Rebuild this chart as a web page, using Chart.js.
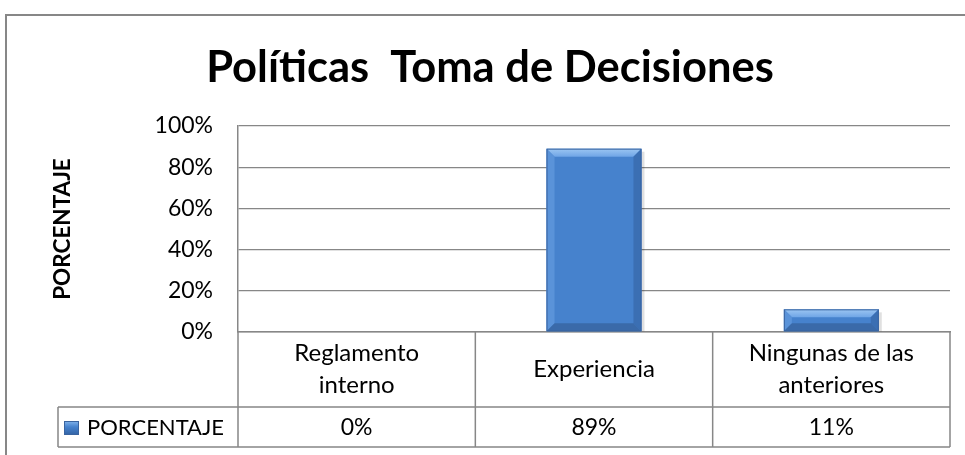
<!DOCTYPE html>
<html>
<head>
<meta charset="utf-8">
<script src="https://cdn.jsdelivr.net/npm/chart.js@4"></script>
<style>
  body { margin: 0; background: #fff; }
  #wrap { position: relative; width: 965px; height: 455px; overflow: hidden; }
  #marco { position: absolute; left: 5px; top: 14px; width: 1000px; height: 1000px; border: 2px solid #878787; }
  canvas { position: absolute; left: 0; top: 0; }
</style>
</head>
<body>
<div id="wrap">
  <div id="marco"></div>
  <canvas id="grafico" width="965" height="455"></canvas>
</div>
<script>
const categorias = [["Reglamento", "interno"], ["Experiencia"], ["Ningunas de las", "anteriores"]];
const porcentaje = [0, 89, 11];
const etiquetasValor = ["0%", "89%", "11%"];
const nombreSerie = "PORCENTAJE";

const fuente = "Lato, 'Liberation Sans', sans-serif";
const gris = "#878787";
const azul = "#4682cd";

// relieve tipo "bisel" de Excel sobre cada barra
const biselBarras = {
  id: "biselBarras",
  afterDatasetsDraw(chart) {
    const ctx = chart.ctx;
    chart.getDatasetMeta(0).data.forEach((bar) => {
      const { x, y, base, width } = bar.getProps(["x", "y", "base", "width"], true);
      const h = base - y;
      if (h < 1) return;
      const l = x - width / 2, r = x + width / 2;
      const b = Math.min(8, h / 2);
      const poly = (pts, color) => {
        ctx.beginPath();
        ctx.moveTo(pts[0][0], pts[0][1]);
        pts.slice(1).forEach((p) => ctx.lineTo(p[0], p[1]));
        ctx.closePath();
        ctx.fillStyle = color;
        ctx.fill();
      };
      ctx.save();
      // sombra suave
      ctx.fillStyle = "rgba(0,0,0,0.12)";
      ctx.fillRect(r, y + 3, 3, h - 3);
      const g = ctx.createLinearGradient(0, y, 0, y + b);
      g.addColorStop(0, "#9cc6f2");
      g.addColorStop(1, "#6fa5e6");
      poly([[l, y], [r, y], [r - b, y + b], [l + b, y + b]], g);
      poly([[l, y], [l + b, y + b], [l + b, base - b], [l, base]], "#5a93d9");
      poly([[r, y], [r, base], [r - b, base - b], [r - b, y + b]], "#3b6fb3");
      poly([[l, base], [l + b, base - b], [r - b, base - b], [r, base]], "#3a6aa9");
      ctx.strokeStyle = "#3a64a0";
      ctx.lineWidth = 1;
      ctx.strokeRect(l + 0.5, y + 0.5, width - 1, h - 1);
      ctx.restore();
    });
  }
};

// tabla de datos debajo del eje x
const tablaDatos = {
  id: "tablaDatos",
  afterDraw(chart) {
    const ctx = chart.ctx;
    const area = chart.chartArea;
    const x = chart.scales.x;
    const paso = x.getPixelForValue(1) - x.getPixelForValue(0);
    const filaTop = x.bottom;
    const filaBottom = filaTop + 40;
    const leyendaIzq = 58;

    ctx.save();
    ctx.strokeStyle = gris;
    ctx.lineWidth = 1.5;
    ctx.beginPath();
    ctx.moveTo(leyendaIzq, filaTop);
    ctx.lineTo(area.right, filaTop);
    ctx.moveTo(leyendaIzq, filaBottom);
    ctx.lineTo(area.right, filaBottom);
    for (let i = 0; i <= porcentaje.length; i++) {
      const px = x.getPixelForValue(0) - paso / 2 + i * paso;
      ctx.moveTo(px, area.bottom);
      ctx.lineTo(px, filaBottom);
    }
    ctx.moveTo(leyendaIzq, filaTop);
    ctx.lineTo(leyendaIzq, filaBottom);
    ctx.stroke();

    // etiquetas de categoría, centradas en la fila
    ctx.fillStyle = "#000";
    ctx.textBaseline = "middle";
    ctx.textAlign = "center";
    ctx.font = "24px " + fuente;
    const cyCat = (area.bottom + filaTop) / 2;
    categorias.forEach((lineas, i) => {
      const cx = x.getPixelForValue(i);
      const y0 = cyCat - ((lineas.length - 1) * 32) / 2;
      lineas.forEach((t, k) => ctx.fillText(t, cx, y0 + k * 32));
    });

    // fila de valores y clave de leyenda
    const cy = (filaTop + filaBottom) / 2;
    const g = ctx.createLinearGradient(0, cy - 7, 0, cy + 7);
    g.addColorStop(0, "#8dbcf0");
    g.addColorStop(0.5, "#4682cd");
    g.addColorStop(1, "#3566a8");
    ctx.fillStyle = g;
    ctx.fillRect(leyendaIzq + 6, cy - 6, 15, 14);
    ctx.strokeStyle = "#3a64a0";
    ctx.lineWidth = 1;
    ctx.strokeRect(leyendaIzq + 6.5, cy - 5.5, 14, 13);

    ctx.fillStyle = "#000";
    ctx.font = "22px " + fuente;
    ctx.textAlign = "left";
    ctx.fillText(nombreSerie, leyendaIzq + 29, cy + 1);

    ctx.textAlign = "center";
    ctx.font = "23px " + fuente;
    etiquetasValor.forEach((t, i) => {
      ctx.fillText(t, x.getPixelForValue(i), cy + 1);
    });
    ctx.restore();
  }
};

new Chart(document.getElementById("grafico"), {
  type: "bar",
  data: {
    labels: categorias,
    datasets: [
      {
        label: nombreSerie,
        data: porcentaje,
        backgroundColor: azul,
        borderWidth: 0,
        barPercentage: 0.4,
        categoryPercentage: 1,
      },
    ],
  },
  options: {
    responsive: false,
    animation: false,
    layout: {
      padding: { top: 30, left: 30, right: 15, bottom: 48 },
    },
    plugins: {
      legend: { display: false },
      tooltip: { enabled: false },
      title: {
        display: true,
        text: "Políticas  Toma de Decisiones",
        color: "#000",
        font: { family: fuente, size: 43.5, weight: "bold", lineHeight: 1.15 },
        padding: { top: 13, bottom: 33 },
      },
    },
    scales: {
      x: {
        grid: { display: false },
        border: { display: true, color: gris, width: 1.5 },
        ticks: { display: false },
        afterFit: (s) => {
          s.height = 75;
        },
      },
      y: {
        min: 0,
        max: 100,
        ticks: {
          stepSize: 20,
          color: "#000",
          padding: 25,
          font: { family: fuente, size: 23 },
          callback: (v) => v + "%",
        },
        grid: { color: gris, lineWidth: 1.3, drawTicks: false },
        border: { display: true, color: gris, width: 1.5 },
        title: {
          display: true,
          text: "PORCENTAJE",
          color: "#000",
          font: { family: fuente, size: 22.5, weight: "bold" },
          padding: { top: 19, bottom: 0 },
        },
        afterFit: (s) => {
          s.width = 208;
        },
      },
    },
  },
  plugins: [biselBarras, tablaDatos],
});
</script>
</body>
</html>
